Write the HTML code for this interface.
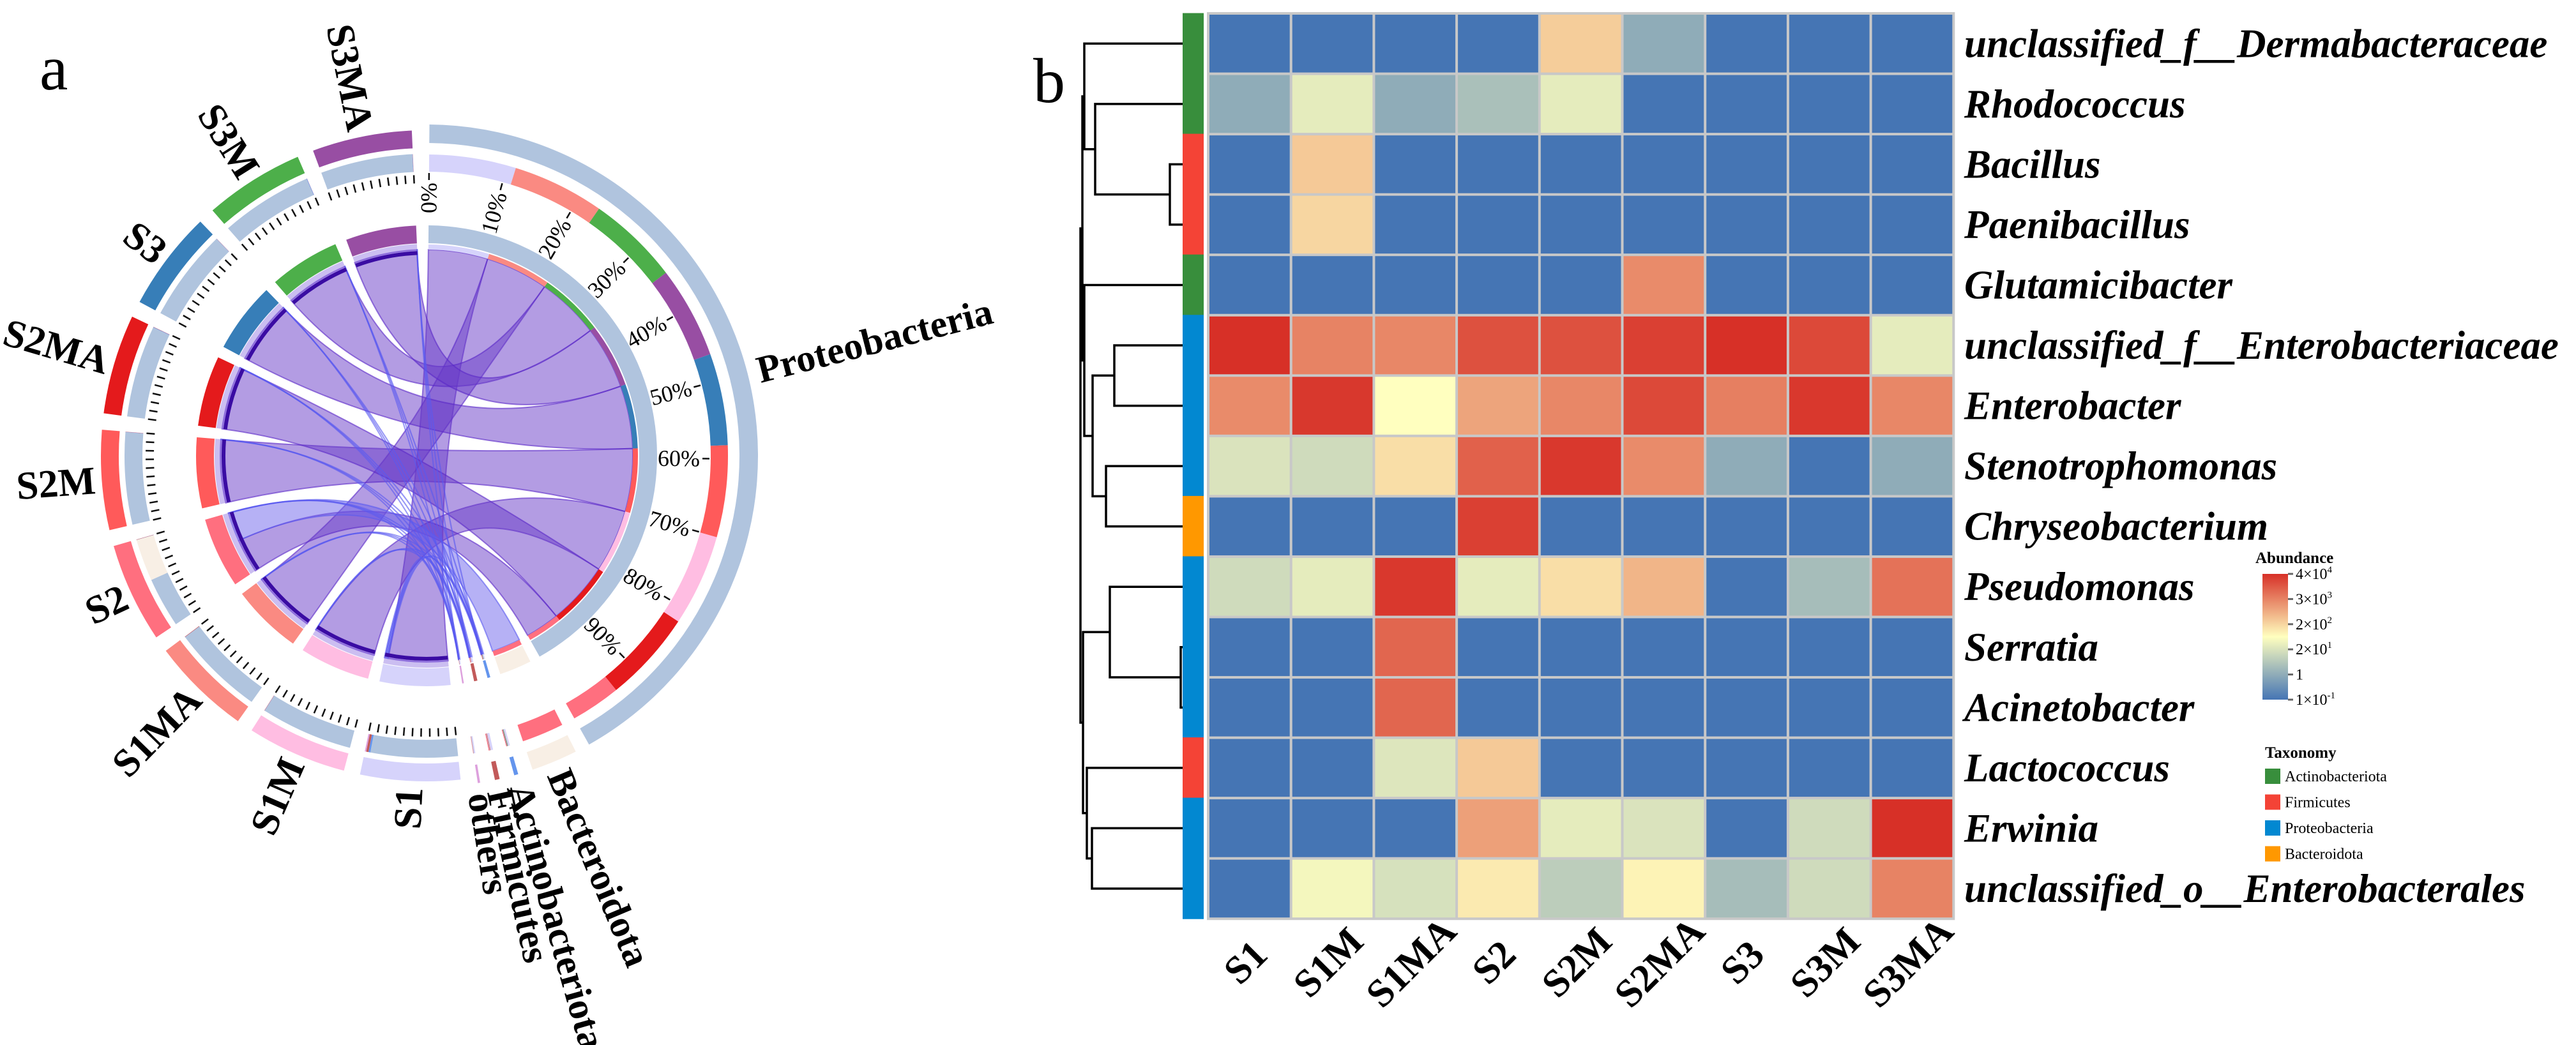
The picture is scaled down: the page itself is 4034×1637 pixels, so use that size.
<!DOCTYPE html>
<html><head><meta charset="utf-8"><style>
html,body{margin:0;padding:0;background:#fff;}
svg{display:block;}
text{font-family:"Liberation Serif","Times New Roman",serif;}
</style></head><body>
<svg id="fig" xmlns="http://www.w3.org/2000/svg" width="4034" height="1637" viewBox="0 0 4034 1637" font-family="Liberation Serif, serif">
<rect x="0" y="0" width="4034" height="1637" fill="#fff"/>
<text x="62" y="140" font-size="100" font-family="Liberation Serif, serif">a</text>
<text x="1618" y="160" font-size="100" font-family="Liberation Serif, serif">b</text>
<g id="chord"></g>
<g id="dendro"></g>
<g id="heat"></g>
<g id="legend">
  <text x="3532" y="882" font-size="25" font-weight="bold" font-family="Liberation Serif, serif">Abundance</text>
  <defs><linearGradient id="cbar" x1="0" y1="1" x2="0" y2="0">
    <stop offset="0" stop-color="#4575b4"/><stop offset="0.5" stop-color="#ffffbf"/><stop offset="1" stop-color="#d73027"/>
  </linearGradient></defs>
  <rect x="3543" y="899" width="40" height="197" fill="url(#cbar)"/>
  <text x="3547" y="1187" font-size="25" font-weight="bold" font-family="Liberation Serif, serif">Taxonomy</text>
</g>
</svg>
<script>
var NS="http://www.w3.org/2000/svg";
var FF="Liberation Serif, serif";
function mk(tag,attrs,parent){var e=document.createElementNS(NS,tag);for(var k in attrs)e.setAttribute(k,attrs[k]);if(tag==='text')e.setAttribute('font-family',FF);parent.appendChild(e);return e;}

/* ================= CHORD DIAGRAM DATA ================= */
var samples=["S1","S1M","S1MA","S2","S2M","S2MA","S3","S3M","S3MA"];
var sampleColors=["#d6d3fb","#ffbde2","#fa8a82","#ff6f7f","#ff5a5a","#e41a1c","#377eb8","#4daf4a","#984ea3"];
var phyla=["Proteobacteria","Bacteroidota","Actinobacteriota","Firmicutes","others"];
var phylaColors=["#b0c4de","#f8efe5","#6495ed","#c25a5a","#dda0dd"];
var protPct=[94,99.4,99.3,54,99.4,99.2,99.5,99.3,99.4];
var bactPct=[0,0,0,45.5,0,0,0,0,0];
var actiPct=[2,0.2,0.1,0.1,0.2,0.4,0.2,0.5,0.3];
var firmPct=[2.5,0.3,0.5,0.3,0.3,0.3,0.2,0.1,0.2];
var othPct=[1.5,0.1,0.1,0.1,0.1,0.1,0.1,0.1,0.1];
var phylumSampleOrder=["S1","S1MA","S3M","S3MA","S3","S2M","S1M","S2MA","S2"];
var pctTicks=["0%","10%","20%","30%","40%","50%","60%","70%","80%","90%"];

(function(){
var g=document.getElementById('chord');
var cx=668,cy=714,K=0.178;
var sStart=174,sGap=2.9,pStart=0.5,pGap=2.6;
var comp=[protPct,bactPct,actiPct,firmPct,othPct];
function P(a,r){var t=a*Math.PI/180;return [cx+r*Math.sin(t),cy-r*Math.cos(t)];}
function arcBand(a0,a1,r0,r1){var p0=P(a0,r1),p1=P(a1,r1),p2=P(a1,r0),p3=P(a0,r0);var L=(a1-a0)>180?1:0;
 return "M"+p0+" A"+r1+" "+r1+" 0 "+L+" 1 "+p1+" L"+p2+" A"+r0+" "+r0+" 0 "+L+" 0 "+p3+" Z";}
function arcLine(a0,a1,r){var p0=P(a0,r),p1=P(a1,r);return "M"+p0+" A"+r+" "+r+" 0 0 1 "+p1;}
var sA=[];for(var i=0;i<samples.length;i++){var a0=sStart+i*(100*K+sGap);sA.push([a0,a0+100*K]);}
var pA=[];var a=pStart;
for(var p=0;p<phyla.length;p++){var tot=0;for(var i=0;i<samples.length;i++)tot+=comp[p][i];pA.push([a,a+tot*K]);a+=tot*K+pGap;}
var sSub={},pSub={};
for(var i=0;i<samples.length;i++){var c=sA[i][0];for(var p=0;p<phyla.length;p++){var w=comp[p][i]*K;sSub[i+"_"+p]=[c,c+w];c+=w;}}
for(var p=0;p<phyla.length;p++){var c=pA[p][0];for(var j=0;j<phylumSampleOrder.length;j++){var i=samples.indexOf(phylumSampleOrder[j]);var w=comp[p][i]*K;pSub[i+"_"+p]=[c,c+w];c+=w;}}
var R=323;
for(var p=0;p<phyla.length;p++){for(var j=0;j<phylumSampleOrder.length;j++){var i=samples.indexOf(phylumSampleOrder[j]);
  if(comp[p][i]<=0)continue;var s=sSub[i+"_"+p],t=pSub[i+"_"+p];
  var A0=P(s[0],R),A1=P(s[1],R),B0=P(t[0],R),B1=P(t[1],R);
  var d="M"+A0+" A"+R+" "+R+" 0 0 1 "+A1+" Q"+cx+","+cy+" "+B0+" A"+R+" "+R+" 0 0 1 "+B1+" Q"+cx+","+cy+" "+A0+" Z";
  var fill=p===0?"rgba(104,58,200,0.5)":(p===1?"rgba(110,100,235,0.5)":"rgba(90,90,240,0.45)");
  var e=mk('path',{d:d,fill:fill,stroke:p===0?"rgba(90,40,200,0.6)":"rgba(90,90,240,0.6)","stroke-width":2},g);
  
  
}}
for(var i=0;i<samples.length;i++){
  var e=mk('path',{d:arcLine(sA[i][0],sA[i][1],318),fill:"none",stroke:"#3a0ca3","stroke-width":6},g);
  
  
  e=mk('path',{d:arcBand(sA[i][0],sA[i][1],321,332),fill:"rgba(140,110,225,0.45)"},g);
  
  
  e=mk('path',{d:arcBand(sA[i][0],sA[i][1],333,361),fill:sampleColors[i]},g);
  
  
  for(var p=0;p<phyla.length;p++){var s=sSub[i+"_"+p];if(s[1]-s[0]<=0)continue;
    e=mk('path',{d:arcBand(s[0],s[1],445,473),fill:phylaColors[p]},g);
    
    }
  e=mk('path',{d:arcBand(sA[i][0],sA[i][1],482,510),fill:sampleColors[i]},g);
  
  
  for(var q=0;q<=10;q++){var ta=sA[i][0]+q*10*K;var p0=P(ta,427),p1=P(ta,440);
    e=mk('line',{x1:p0[0],y1:p0[1],x2:p1[0],y2:p1[1],stroke:"#111","stroke-width":2.5},g);
    
    }
  var m=(sA[i][0]+sA[i][1])/2,lp=P(m,520);
  e=mk('text',{x:lp[0],y:lp[1],"font-size":62,"font-weight":"bold","text-anchor":"end","dominant-baseline":"central",transform:"rotate("+(m-270)+" "+lp[0]+" "+lp[1]+")"},g);
  e.textContent=samples[i];
  
  
}
for(var p=0;p<phyla.length;p++){
  var a0=pA[p][0],a1=pA[p][1];
  var e=mk('path',{d:arcBand(a0,a1,333,361),fill:phylaColors[p]},g);
  
  
  for(var j=0;j<phylumSampleOrder.length;j++){var i=samples.indexOf(phylumSampleOrder[j]);var t=pSub[i+"_"+p];if(t[1]-t[0]<=0)continue;
    e=mk('path',{d:arcBand(t[0],t[1],323,331),fill:sampleColors[i]},g);
    
    
    e=mk('path',{d:arcBand(t[0],t[1],445,472),fill:sampleColors[i]},g);
    
    }
  e=mk('path',{d:arcBand(a0,a1,490,519),fill:phylaColors[p]},g);
  
  
  var m=(a0+a1)/2,lp=P(m,535);
  e=mk('text',{x:lp[0],y:lp[1],"font-size":60,"font-weight":"bold","text-anchor":"start","dominant-baseline":"central",transform:"rotate("+(m-90)+" "+lp[0]+" "+lp[1]+")"},g);
  e.textContent=phyla[p];
  
  
}
for(var q=0;q<pctTicks.length;q++){var ta=pA[0][0]+(pA[0][1]-pA[0][0])*q/10;
  var p0=P(ta,432),p1=P(ta,443);
  var e=mk('line',{x1:p0[0],y1:p0[1],x2:p1[0],y2:p1[1],stroke:"#111","stroke-width":2.5},g);
  
  
  var lp=P(ta,428);
  e=mk('text',{x:lp[0],y:lp[1],"font-size":36,"text-anchor":"end","dominant-baseline":"central",transform:"rotate("+(ta-90)+" "+lp[0]+" "+lp[1]+")"},g);
  e.textContent=pctTicks[q];
  
  }
})();

/* ================= HEATMAP DATA ================= */
var rowNames=["unclassified_f__Dermabacteraceae","Rhodococcus","Bacillus","Paenibacillus","Glutamicibacter","unclassified_f__Enterobacteriaceae","Enterobacter","Stenotrophomonas","Chryseobacterium","Pseudomonas","Serratia","Acinetobacter","Lactococcus","Erwinia","unclassified_o__Enterobacterales"];
var colNames=["S1","S1M","S1MA","S2","S2M","S2MA","S3","S3M","S3MA"];
var rowTaxa=["Actinobacteriota","Actinobacteriota","Firmicutes","Firmicutes","Actinobacteriota","Proteobacteria","Proteobacteria","Proteobacteria","Bacteroidota","Proteobacteria","Proteobacteria","Proteobacteria","Firmicutes","Proteobacteria","Proteobacteria"];
var taxaNames=["Actinobacteriota","Firmicutes","Proteobacteria","Bacteroidota"];
var taxaColors=["#388e3c","#f44336","#0288d1","#ff9800"];
var log10Abund=[
[-1,-1,-1,-1,2.42,0,-1,-1,-1],
[0,1.45,0,0.46,1.45,-1,-1,-1,-1],
[-1,2.48,-1,-1,-1,-1,-1,-1,-1],
[-1,2.3,-1,-1,-1,-1,-1,-1,-1],
[-1,-1,-1,-1,-1,3.36,-1,-1,-1],
[4.6,3.48,3.42,4.15,4.15,4.38,4.6,4.26,1.45],
[3.36,4.5,1.8,3.01,3.42,4.26,3.53,4.49,3.42],
[1.3,1.11,2.2,3.93,4.49,3.36,0,-1,0],
[-1,-1,-1,4.38,-1,-1,-1,-1,-1],
[1.11,1.45,4.49,1.45,2.2,2.77,-1,0.39,3.7],
[-1,-1,3.87,-1,-1,-1,-1,-1,-1],
[-1,-1,3.87,-1,-1,-1,-1,-1,-1],
[-1,-1,1.35,2.48,-1,-1,-1,-1,-1],
[-1,-1,-1,3.06,1.45,1.3,-1,1.11,4.6],
[-1,1.65,1.24,2.05,0.78,1.95,0.39,1.11,3.48]];
var tickLogs=[-1,0,1.301,2.301,3.477,4.602];
var tickLabels=["1×10","1","2×10","2×10","3×10","4×10"];
var tickSups=["-1","","1","2","3","4"];

(function(){
var g=document.getElementById('heat');
var X0=1892,Y0=21,CW=129.7,CH=94.55;
function rowY(i){return Y0+(i+0.5)*CH;}
function colX(j){return X0+(j+0.5)*CW;}
function tOf(v){if(v<=tickLogs[0])return 0;for(var k=0;k<tickLogs.length-1;k++){if(v<=tickLogs[k+1])return (k+(v-tickLogs[k])/(tickLogs[k+1]-tickLogs[k]))/5;}return 1;}
function lerp(a,b,t){return [a[0]+(b[0]-a[0])*t,a[1]+(b[1]-a[1])*t,a[2]+(b[2]-a[2])*t];}
function col(v){var t=tOf(v);var B=[69,117,180],Y=[255,255,191],Rr=[215,48,39];var c=t<0.5?lerp(B,Y,t/0.5):lerp(Y,Rr,(t-0.5)/0.5);return "rgb("+Math.round(c[0])+","+Math.round(c[1])+","+Math.round(c[2])+")";}
var bd=mk('rect',{x:X0-2,y:Y0-2,width:CW*colNames.length+4,height:CH*rowNames.length+4,fill:"#c8c8c8"},g);


for(var i=0;i<rowNames.length;i++){
  for(var j=0;j<colNames.length;j++){
    var e=mk('rect',{x:X0+j*CW+2,y:Y0+i*CH+2,width:CW-4,height:CH-4,fill:col(log10Abund[i][j])},g);
    
    
  }
  var ti=taxaNames.indexOf(rowTaxa[i]);
  var a=mk('rect',{x:1852,y:Y0+i*CH-0.5,width:33,height:CH+1,fill:taxaColors[ti]},g);
  
  
  var t=mk('text',{x:3076,y:rowY(i)+21,"font-size":63,"font-weight":"bold","font-style":"italic"},g);
  t.textContent=rowNames[i];
  
  
}
for(var j=0;j<colNames.length;j++){
  var x=colX(j)+8,y=1522;
  var t=mk('text',{x:x,y:y,"font-size":62,"font-weight":"bold","text-anchor":"middle",transform:"rotate(-45 "+x+" "+y+")"},g);
  t.textContent=colNames[j];
  
  
}
var d=document.getElementById('dendro');
var leaves=[];for(var i=0;i<rowNames.length;i++)leaves.push({x:1852,y:rowY(i)});
function join(a,b,x){var n={x:x,y:(a.y+b.y)/2};
  var e=mk('path',{d:"M"+a.x+","+a.y+" H"+x+" V"+b.y+" H"+b.x,fill:"none",stroke:"#000","stroke-width":3.5},d);
  
  
  return n;}
var n23=join(leaves[2],leaves[3],1832),n1=join(leaves[1],n23,1715),nA=join(leaves[0],n1,1698);
var n56=join(leaves[5],leaves[6],1745),n78=join(leaves[7],leaves[8],1732),n58=join(n56,n78,1711),nB=join(leaves[4],n58,1698);
var n1011=join(leaves[10],leaves[11],1849),nC=join(leaves[9],n1011,1738);
var n1314=join(leaves[13],leaves[14],1710),nD=join(leaves[12],n1314,1702);
var nAB=join(nA,nB,1695),nCD=join(nC,nD,1696),root=join(nAB,nCD,1692);
var L=document.getElementById('legend');
for(var k=0;k<tickLabels.length;k++){var y=1096-k*(197/5);
  var e=mk('line',{x1:3583,y1:y,x2:3591,y2:y,stroke:"#666","stroke-width":3},L);
  
  
  var t=mk('text',{x:3595,y:y+8,"font-size":24},L);t.textContent=tickLabels[k];
  if(tickSups[k]){var s=mk('tspan',{"font-size":15,dy:-10},t);s.textContent=tickSups[k];}
  
  }
for(var k=0;k<taxaNames.length;k++){var y=1204+k*40.5;
  var r=mk('rect',{x:3547,y:y,width:24,height:24,fill:taxaColors[k]},L);
  
  
  var t=mk('text',{x:3578,y:y+20,"font-size":24},L);t.textContent=taxaNames[k];
  
  }
})();
</script>
</body></html>
